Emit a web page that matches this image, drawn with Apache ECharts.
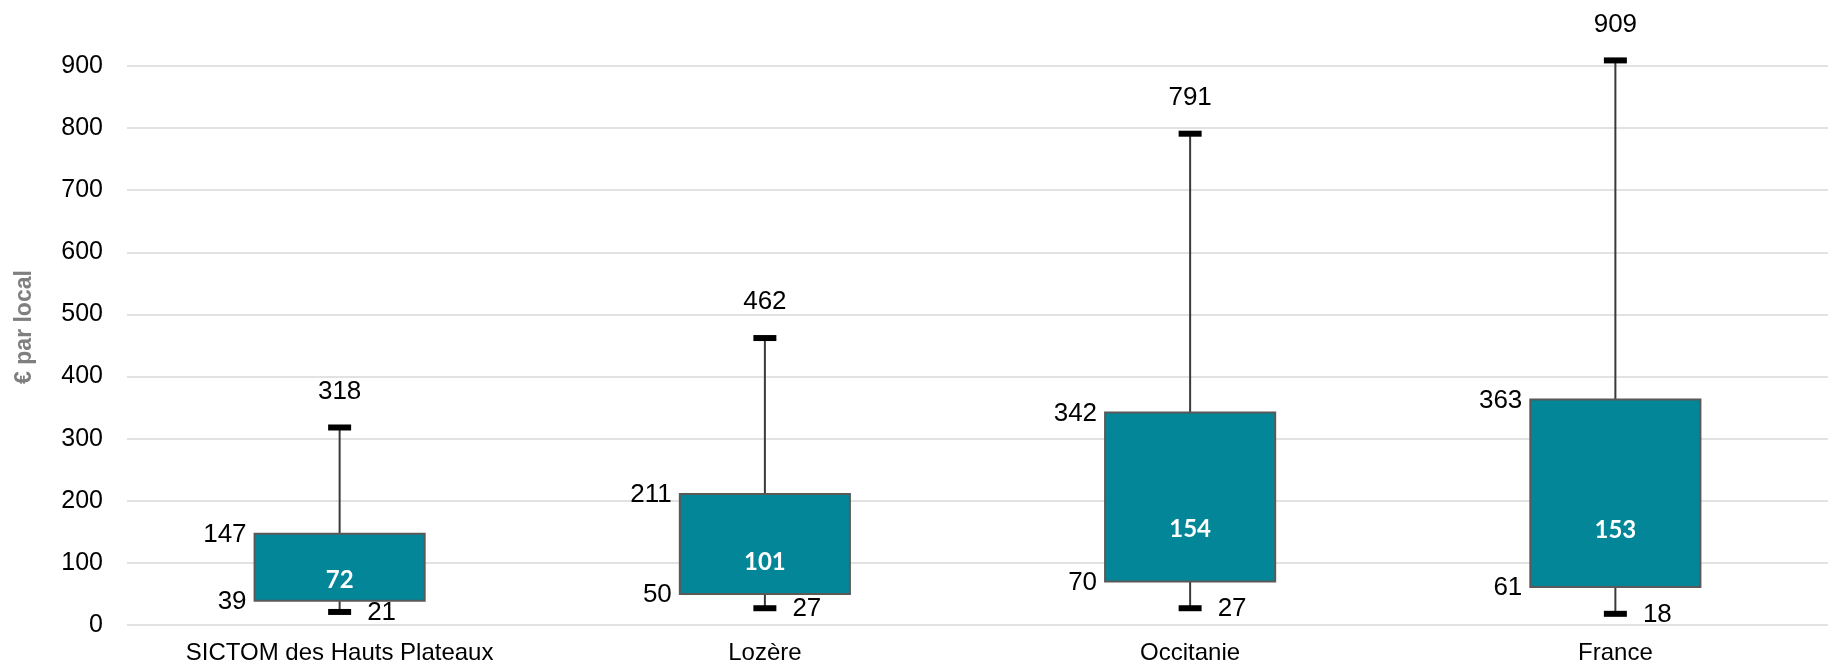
<!DOCTYPE html>
<html>
<head>
<meta charset="utf-8">
<script src="https://cdn.jsdelivr.net/npm/echarts@6/dist/echarts.min.js"></script>
<style>
html,body{margin:0;padding:0;background:#fff;}
#chart{width:1828px;height:666px;}
</style>
</head>
<body>
<div id="chart"></div>
<script>
const categories = ['SICTOM des Hauts Plateaux', 'Lozère', 'Occitanie', 'France'];
const minValues = [21, 27, 27, 18];
const q1Values = [39, 50, 70, 61];
const medianValues = [72, 101, 154, 153];
const q3Values = [147, 211, 342, 363];
const maxValues = [318, 462, 791, 909];
const yAxisTitle = '€ par local';

const boxData = categories.map((c, i) => [i, minValues[i], q1Values[i], medianValues[i], q3Values[i], maxValues[i]]);

const FONT = '"Liberation Sans", Arial, sans-serif';
const BOX_COLOR = '#038697';

function renderItem(params, api) {
  const idx = api.value(0);
  const vMin = api.value(1), vQ1 = api.value(2), vMed = api.value(3), vQ3 = api.value(4), vMax = api.value(5);
  const pMin = api.coord([idx, vMin]);
  const pQ1 = api.coord([idx, vQ1]);
  const pMed = api.coord([idx, vMed]);
  const pQ3 = api.coord([idx, vQ3]);
  const pMax = api.coord([idx, vMax]);
  const band = api.size([1, 0])[0];
  const x = pQ1[0];
  const boxW = band * 0.4;
  const capW = 23, capH = 6;
  const left = x - boxW / 2;
  const children = [];
  const lineStyle = { stroke: '#3a3a3a', lineWidth: 2 };
  children.push({ type: 'line', shape: { x1: x, y1: pMin[1], x2: x, y2: pQ1[1] }, style: lineStyle });
  children.push({ type: 'line', shape: { x1: x, y1: pQ3[1], x2: x, y2: pMax[1] }, style: lineStyle });
  children.push({ type: 'rect', shape: { x: left, y: pQ3[1], width: boxW, height: pQ1[1] - pQ3[1] },
    style: { fill: BOX_COLOR, stroke: '#595959', lineWidth: 2 } });
  children.push({ type: 'rect', shape: { x: x - capW / 2, y: pMin[1] - capH / 2, width: capW, height: capH }, style: { fill: '#000' } });
  children.push({ type: 'rect', shape: { x: x - capW / 2, y: pMax[1] - capH / 2, width: capW, height: capH }, style: { fill: '#000' } });
  const txt = (t, tx, ty, align, extra) => Object.assign({
    type: 'text',
    style: Object.assign({ text: String(t), x: tx, y: ty, align: align, verticalAlign: 'middle',
      fill: '#000', fontSize: 26, fontFamily: FONT }, extra || {})
  });
  children.push(txt(vMax, x, pMax[1] - 36, 'center'));
  children.push(txt(vQ3, left - 8, pQ3[1] + 1, 'right'));
  children.push(txt(vQ1, left - 8, pQ1[1] + 1, 'right'));
  children.push(txt(vMin, x + capW / 2 + 16, pMin[1] + 1, 'left'));
  children.push(txt(vMed, x, pMed[1], 'center', { fill: '#fff', fontWeight: 'bold', fontSize: 24, fontFamily: 'Lato, "Open Sans", sans-serif' }));
  return { type: 'group', children: children };
}

const chart = echarts.init(document.getElementById('chart'), null, { renderer: 'canvas' });
chart.setOption({
  animation: false,
  backgroundColor: '#fff',
  grid: { left: 127, right: -19, top: 66, bottom: 41, containLabel: false },
  xAxis: {
    type: 'category',
    data: categories,
    axisLine: { show: false },
    axisTick: { show: false },
    axisLabel: { color: '#000', fontSize: 24, fontFamily: FONT, margin: 16, interval: 0 }
  },
  yAxis: {
    type: 'value',
    min: 0, max: 900, interval: 100,
    axisLine: { show: false },
    axisTick: { show: false },
    axisLabel: { color: '#000', fontSize: 25, fontFamily: FONT, margin: 24 },
    splitLine: { show: true, lineStyle: { color: '#d9d9d9', width: 1.5 } }
  },
  graphic: [{
    type: 'text',
    x: 25, y: 327,
    rotation: Math.PI / 2,
    style: { text: yAxisTitle, fill: '#7f7f7f', fontSize: 23, fontWeight: 'bold', fontFamily: FONT,
      align: 'center', verticalAlign: 'middle' }
  }],
  series: [{
    type: 'custom',
    renderItem: renderItem,
    clip: false,
    encode: { x: 0, y: [1, 2, 3, 4, 5] },
    data: boxData
  }]
});
</script>
</body>
</html>
